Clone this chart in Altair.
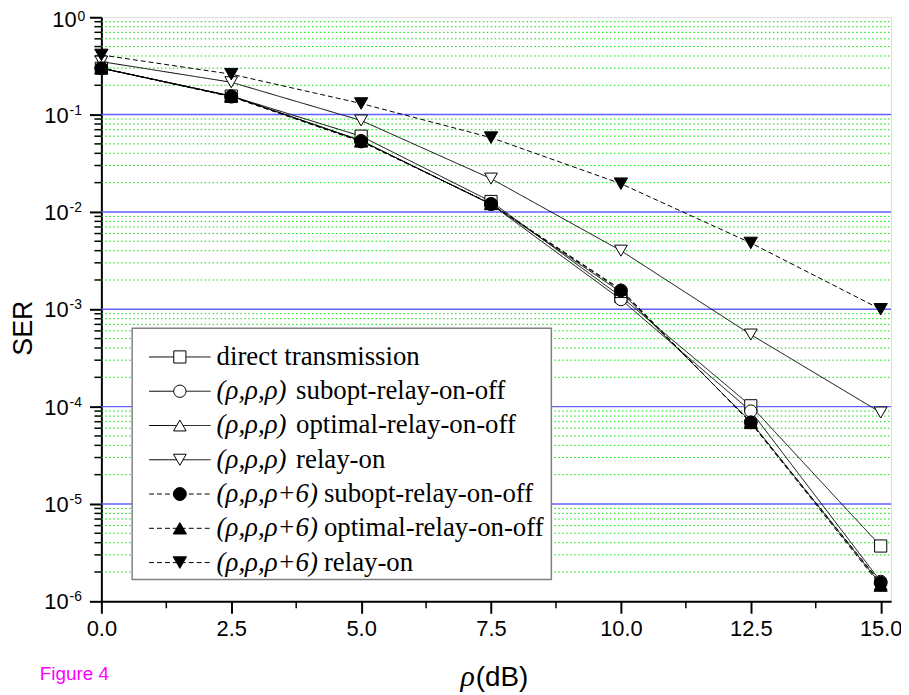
import altair as alt
import pandas as pd

# ---------------- data ----------------
snr_db = [0.0, 2.5, 5.0, 7.5, 10.0, 12.5, 15.0]
series_keys = ["direct", "subopt", "optimal", "relayon", "subopt6", "optimal6", "relayon6"]
ser_direct   = [0.30, 0.155, 0.060, 0.0128, 0.00135, 1.02e-4, 3.7e-6]
ser_subopt   = [0.30, 0.155, 0.054, 0.0120, 0.00126, 9.0e-5, 1.6e-6]
ser_optimal  = [0.30, 0.155, 0.054, 0.0120, 0.00150, 7.0e-5, 1.5e-6]
ser_relayon  = [0.35, 0.215, 0.087, 0.0220, 0.0040, 5.5e-4, 8.7e-5]
ser_subopt6  = [0.30, 0.153, 0.053, 0.0121, 0.00156, 6.9e-5, 1.55e-6]
ser_optimal6 = [0.30, 0.153, 0.053, 0.0121, 0.00160, 6.8e-5, 1.45e-6]
ser_relayon6 = [0.41, 0.26, 0.13, 0.058, 0.0195, 4.8e-3, 1.0e-3]
all_series = [ser_direct, ser_subopt, ser_optimal, ser_relayon, ser_subopt6, ser_optimal6, ser_relayon6]

legend_prefix = ["", "(ρ,ρ,ρ)", "(ρ,ρ,ρ)", "(ρ,ρ,ρ)", "(ρ,ρ,ρ+6)", "(ρ,ρ,ρ+6)", "(ρ,ρ,ρ+6)"]
legend_suffix = ["direct transmission", "subopt-relay-on-off", "optimal-relay-on-off", "relay-on",
                 "subopt-relay-on-off", "optimal-relay-on-off", "relay-on"]

x_major = [0.0, 2.5, 5.0, 7.5, 10.0, 12.5, 15.0]
x_minor = [1.25, 3.75, 6.25, 8.75, 11.25, 13.75]
decades = [1e0, 1e-1, 1e-2, 1e-3, 1e-4, 1e-5, 1e-6]
exponents = ["0", "-1", "-2", "-3", "-4", "-5", "-6"]
blue_lines = [1e-1, 1e-2, 1e-3, 1e-4, 1e-5]

# ---------------- styling ----------------
W, H = 795, 588
SANS = "Liberation Sans"
SERIF = "Liberation Serif"
shape_range = ["square", "circle", "triangle-up", "triangle-down", "circle", "triangle-up", "triangle-down"]
fill_range = ["white"] * 4 + ["black"] * 3
dash_range = [[1, 0]] * 4 + [[5, 3]] * 3
size_range = [150, 180, 210, 210, 180, 210, 210]

xs = alt.Scale(domain=[0, 15.2], nice=False, zero=False)
ys = alt.Scale(type="log", domain=[1e-6, 1], nice=False)
shape_s = alt.Scale(domain=series_keys, range=shape_range)
fill_s = alt.Scale(domain=series_keys, range=fill_range)
dash_s = alt.Scale(domain=series_keys, range=dash_range)
size_s = alt.Scale(domain=series_keys, range=size_range)

x_axis = alt.Axis(values=x_major, format=".1f", tickSize=12, tickWidth=2, tickColor="black",
                  labelFontSize=22, labelFont=SANS, labelColor="black", labelPadding=5,
                  domainWidth=2, domainColor="black", title=None, grid=False, labelFlush=False)
y_axis = alt.Axis(values=decades, labels=False, tickSize=12, tickWidth=2, tickColor="black",
                  domainWidth=2, domainColor="black", title=None, grid=False)

rows = []
for k, vals in zip(series_keys, all_series):
    for xv, yv in zip(snr_db, vals):
        rows.append({"x": xv, "y": yv, "series": k})
df = pd.DataFrame(rows)

minor_vals = [m * 10.0 ** e for e in range(-6, 0) for m in range(2, 10)]
df_minor = pd.DataFrame({"v": minor_vals})
df_blue = pd.DataFrame({"v": blue_lines})
df_xminor = pd.DataFrame({"x": x_minor})
df_dec = pd.DataFrame({"v": decades, "exp": exponents, "ten": ["10"] * len(decades)})

# ---------------- layers ----------------
green = alt.Chart(df_minor).mark_rule(color="#00dd00", strokeDash=[1.5, 2.5], strokeWidth=1).encode(
    y=alt.Y("v:Q", scale=ys, axis=y_axis), x=alt.value(0), x2=alt.value(W))
blue = alt.Chart(df_blue).mark_rule(color="#6060ff", strokeWidth=1.5).encode(
    y=alt.Y("v:Q", scale=ys, axis=y_axis), x=alt.value(0), x2=alt.value(W))
yminor = alt.Chart(df_minor).mark_rule(color="black", strokeWidth=1.5).encode(
    y=alt.Y("v:Q", scale=ys, axis=y_axis), x=alt.value(-7), x2=alt.value(0))
xminor = alt.Chart(df_xminor).mark_rule(color="black", strokeWidth=1.5).encode(
    x=alt.X("x:Q", scale=xs, axis=x_axis), y=alt.value(H), y2=alt.value(H + 7))

lines = alt.Chart(df).mark_line(color="black", strokeWidth=1).encode(
    x=alt.X("x:Q", scale=xs, axis=x_axis),
    y=alt.Y("y:Q", scale=ys, axis=y_axis),
    detail="series:N",
    strokeDash=alt.StrokeDash("series:N", scale=dash_s, legend=None))
points = alt.Chart(df).mark_point(stroke="black", strokeWidth=1, opacity=1, filled=False).encode(
    x=alt.X("x:Q", scale=xs, axis=x_axis),
    y=alt.Y("y:Q", scale=ys, axis=y_axis),
    shape=alt.Shape("series:N", scale=shape_s, legend=None),
    fill=alt.Fill("series:N", scale=fill_s, legend=None),
    size=alt.Size("series:N", scale=size_s, legend=None))

# y tick labels "10" with superscript exponent (top one nudged down to stay on the page)
dec0 = df_dec[df_dec["exp"] == "0"]
decn = df_dec[df_dec["exp"] != "0"]
ylab_layers = []
for sub, anchor, dy_ten, dy_exp in [(dec0, -25, 10, 4), (decn, -33, 8, 0)]:
    ylab_layers.append(alt.Chart(sub).mark_text(font=SANS, fontSize=22, align="right", baseline="alphabetic",
                                                dy=dy_ten, color="black").encode(
        y=alt.Y("v:Q", scale=ys, axis=y_axis), x=alt.value(anchor), text="ten:N"))
    ylab_layers.append(alt.Chart(sub).mark_text(font=SANS, fontSize=14, align="left", baseline="alphabetic",
                                                dy=dy_exp, color="black").encode(
        y=alt.Y("v:Q", scale=ys, axis=y_axis), x=alt.value(anchor + 1), text="exp:N"))

one = pd.DataFrame({"a": [0]})
ser_title = alt.Chart(one).mark_text(text="SER", font=SANS, fontSize=27, angle=270, align="center",
                                     baseline="middle", color="black").encode(
    x=alt.value(-78), y=alt.value(313))
rho_title = alt.Chart(one).mark_text(text="ρ", font=SERIF, fontStyle="italic", fontSize=30, align="right",
                                     baseline="alphabetic", color="black").encode(
    x=alt.value(376), y=alt.value(673))
db_title = alt.Chart(one).mark_text(text="(dB)", font=SANS, fontSize=28, align="left",
                                    baseline="alphabetic", color="black").encode(
    x=alt.value(377), y=alt.value(673))
fig_label = alt.Chart(one).mark_text(text="Figure 4", font=SANS, fontSize=19, align="left",
                                     baseline="alphabetic", color="#ff00ff").encode(
    x=alt.value(-62), y=alt.value(667))

# ---------------- legend ----------------
LX0, LX1, LY0, LY1 = 31, 453, 313, 566
row_y0, row_dy = 342, 34.5
df_leg = pd.DataFrame({
    "series": series_keys,
    "prefix": legend_prefix,
    "suffix": legend_suffix,
})
df_leg["ly"] = [row_y0 + i * row_dy for i in range(len(series_keys))]
df_leg["sx"] = [116] + [196] * 3 + [224] * 3

leg_box = alt.Chart(one).mark_rect(fill="white", stroke="#808080", strokeWidth=1.5).encode(
    x=alt.value(LX0), x2=alt.value(LX1), y=alt.value(LY0), y2=alt.value(LY1))
leg_lines = alt.Chart(df_leg).mark_rule(color="black", strokeWidth=1).encode(
    y=alt.Y("ly:Q", scale=None), x=alt.value(48), x2=alt.value(110),
    strokeDash=alt.StrokeDash("series:N", scale=dash_s, legend=None))
leg_pts = alt.Chart(df_leg).mark_point(stroke="black", strokeWidth=1, opacity=1, filled=False).encode(
    y=alt.Y("ly:Q", scale=None), x=alt.value(79),
    shape=alt.Shape("series:N", scale=shape_s, legend=None),
    fill=alt.Fill("series:N", scale=fill_s, legend=None),
    size=alt.Size("series:N", scale=size_s, legend=None))
leg_pre = alt.Chart(df_leg).mark_text(font=SERIF, fontStyle="italic", fontSize=27, align="left",
                                      baseline="middle", color="black").encode(
    y=alt.Y("ly:Q", scale=None), x=alt.value(116), text="prefix:N")
leg_suf = alt.Chart(df_leg).mark_text(font=SERIF, fontSize=27, align="left",
                                      baseline="middle", color="black").encode(
    y=alt.Y("ly:Q", scale=None), x=alt.X("sx:Q", scale=None), text="suffix:N")

chart = alt.layer(
    green, blue, yminor, xminor, lines, points, *ylab_layers,
    ser_title, rho_title, db_title, fig_label,
    leg_box, leg_lines, leg_pts, leg_pre, leg_suf,
).properties(
    width=W, height=H,
    autosize=alt.AutoSizeParams(type="none"),
    padding={"left": 94, "top": 7, "right": 10, "bottom": 92},
).configure_view(stroke=None).configure(background="white")

chart.save("out.html", embed_options={"renderer": "svg", "actions": False})
